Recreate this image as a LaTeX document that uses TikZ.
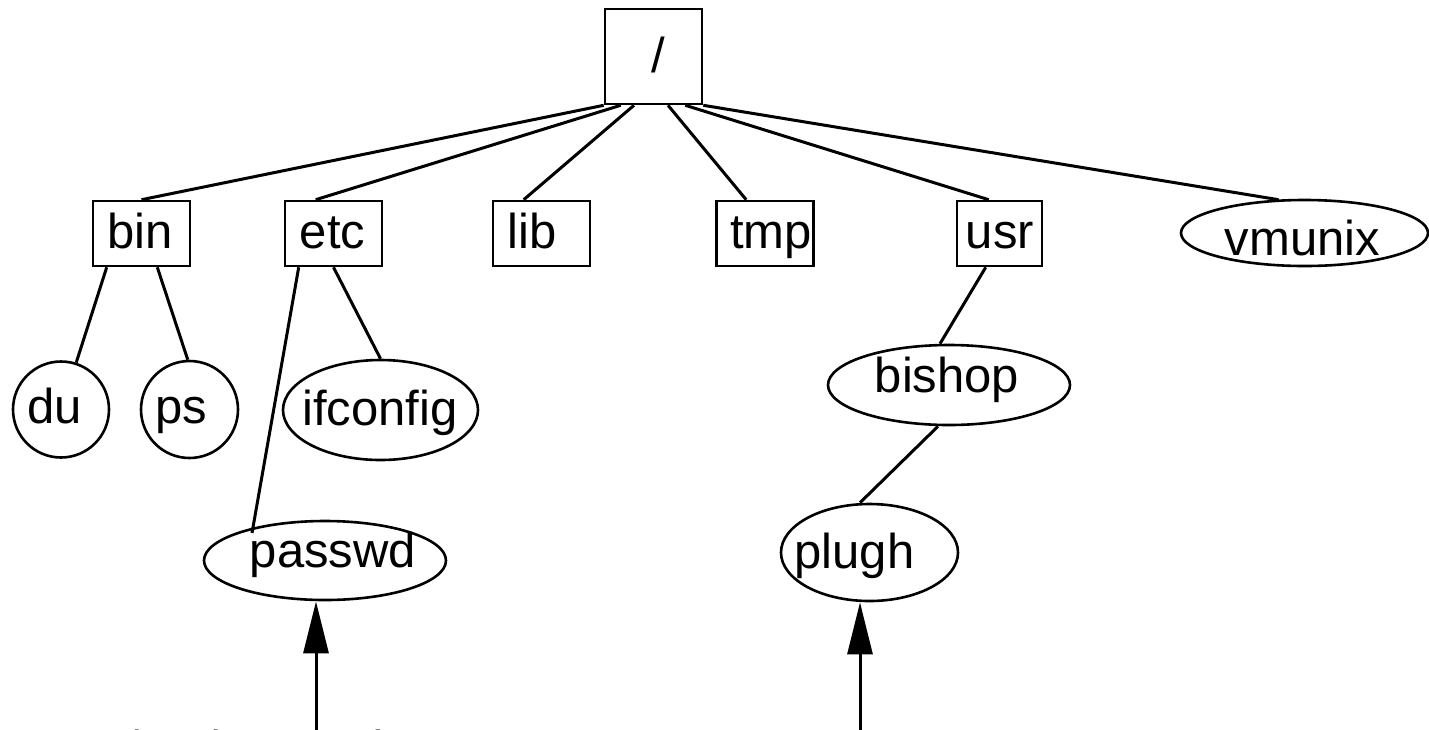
\documentclass[tikz,border=0pt]{standalone}
\usepackage{fontspec}
\setmainfont{Liberation Sans}
\usetikzlibrary{shapes.geometric,arrows.meta,calc}

\tikzset{
  edge/.style={line width=1.5pt},
  ptr/.style={line width=1.5pt, -{Triangle[length=26pt,width=12.5pt]}},
  box/.style={draw, line width=1.3pt, inner sep=0pt, minimum width=48.5pt, minimum height=32.5pt},
  oval/.style={draw, ellipse, line width=1.3pt, inner sep=0pt},
  disk/.style={draw, circle, line width=1.3pt, inner sep=0pt},
  txt/.style={font=\fontsize{24.5}{29}\selectfont, inner sep=0pt, anchor=base},
}

\begin{document}
\begin{tikzpicture}[x=0.5pt, y=-0.5pt]
  \useasboundingbox (0,0) rectangle (1429,729);
  \clip (0,0) rectangle (1429,729);

  % directories and files
  \node[box, minimum height=47.5pt] (root) at (653.5,56.5) {};
  \node[box] (bin) at (141.5,233.5) {};
  \node[box] (etc) at (333.5,233.5) {};
  \node[box] (lib) at (541.5,233.5) {};
  \node[box] (tmp) at (765,233.5) {};
  \node[box, minimum width=42.5pt] (usr) at (999.5,233.5) {};
  \node[oval, minimum width=123.5pt, minimum height=33pt] (vmunix) at (1304.5,233) {};
  \node[disk, minimum size=48pt] (du) at (61,409.5) {};
  \node[disk, minimum size=48.5pt] (ps) at (189.5,409.5) {};
  \node[oval, minimum width=97.5pt, minimum height=50pt] (ifconfig) at (380.5,410) {};
  \node[oval, minimum width=121pt, minimum height=39.5pt] (passwd) at (325,560.5) {};
  \node[oval, minimum width=121pt, minimum height=40pt] (bishop) at (949,385) {};
  \node[oval, minimum width=88.5pt, minimum height=48.5pt] (plugh) at (869.5,552.5) {};

  % names
  \node[txt] (rootT) at (658,72) {/};
  \node[txt] (binT) at (140,248) {bin};
  \node[txt] (etcT) at (332.5,248) {etc};
  \node[txt] (libT) at (532,248) {lib};
  \node[txt] (tmpT) at (771,248) {tmp};
  \node[txt] (usrT) at (1000,248) {usr};
  \node[txt] (vmunixT) at (1302.5,255) {vmunix};
  \node[txt] (duT) at (55,423) {du};
  \node[txt] (psT) at (181,423) {ps};
  \node[txt] (ifconfigT) at (380,425) {ifconfig};
  \node[txt] (passwdT) at (333,567) {passwd};
  \node[txt] (bishopT) at (947,392) {bishop};
  \node[txt] (plughT) at (854.5,568) {plugh};
  \node[txt, anchor=base west] (pathT) at (125,765) {/etc/passwd};

  % tree edges
  \draw[edge] (root.south west) -- (bin.north);
  \draw[edge] ($(root.south west)+(17,0)$) -- ($(etc.north west)+(32,0)$);
  \draw[edge] ($(root.south)+(-19.5,0)$) -- ($(lib.north west)+(32,0)$);
  \draw[edge] ($(root.south)+(14.5,0)$) -- ($(tmp.north west)+(31,0)$);
  \draw[edge] ($(root.south east)+(-18,0)$) -- ($(usr.north west)+(33,0)$);
  \draw[edge] (root.south east) -- ($(vmunix.north)+(-26,1)$);

  \draw[edge] ($(bin.south west)+(15,0)$) -- (du.72);
  \draw[edge] ($(bin.south east)+(-34,0)$) -- (ps.92);
  \draw[edge] ($(etc.south west)+(15,0)$) -- ($(passwd.center)+(-73,-27.5)$);
  \draw[edge] (etc.south) -- (ifconfig.north);
  \draw[edge] ($(usr.south west)+(30,0)$) -- ($(bishop.north)+(-9,0)$);
  \draw[edge] ($(bishop.south)+(-11,0)$) -- ($(plugh.north)+(-9.5,0)$);

  % pointers from below
  \coordinate (p1) at (316,745);
  \coordinate (p2) at (860,745);
  \draw[ptr] (p1) -- ($(passwd.south)+(-9,0)$);
  \draw[ptr] (p2) -- ($(plugh.south)+(-9.5,0)$);
\end{tikzpicture}
\end{document}
